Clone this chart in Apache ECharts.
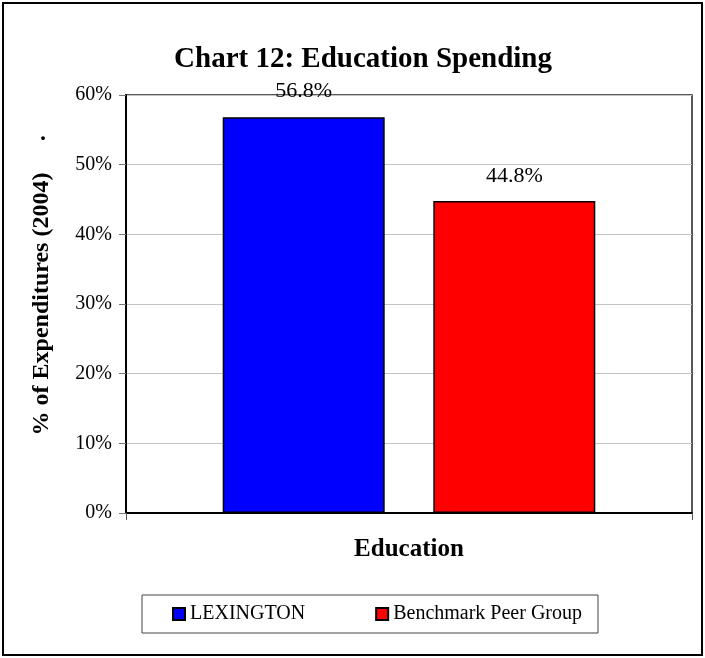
<!DOCTYPE html>
<html>
<head>
<meta charset="utf-8">
<script src="https://cdn.jsdelivr.net/npm/echarts@6/dist/echarts.min.js"></script>
<style>
  html, body { margin: 0; padding: 0; background: #fff; }
  #chart { width: 705px; height: 658px; }
</style>
</head>
<body>
<div id="chart"></div>
<script>
// data
var categories = ['Education']
var seriesNames = ['LEXINGTON', 'Benchmark Peer Group']
var lexington = [56.8]
var peerGroup = [44.8]
var yMin = 0
var yMax = 60
var yStep = 10

var serif = "'Liberation Serif', 'Times New Roman', serif"

var chart = echarts.init(document.getElementById('chart'))

var option = {
  backgroundColor: '#fff',
  animation: false,
  title: {
    text: 'Chart 12: Education Spending',
    left: 358,
    top: 40,
    textAlign: 'center',
    textStyle: { fontFamily: serif, fontWeight: 'bold', fontSize: 29, color: '#000' }
  },
  graphic: [
    {
      type: 'rect',
      shape: { x: 3, y: 3, width: 699, height: 652 },
      style: { fill: 'none', stroke: '#000', lineWidth: 2 },
      silent: true
    },
    {
      // stray dot that sits beyond the end of the axis title
      type: 'text',
      left: 40,
      top: 122,
      style: { text: '.', font: 'bold 24px ' + serif, fill: '#000' }
    }
  ],
  legend: {
    data: seriesNames,
    left: 142,
    top: 595,
    padding: [9, 16, 9, 30],
    itemGap: 70,
    itemWidth: 12,
    itemHeight: 12,
    borderColor: '#444',
    borderWidth: 1,
    icon: 'rect',
    textStyle: { fontFamily: serif, fontSize: 20, color: '#000' }
  },
  grid: {
    left: 126,
    right: 13,
    top: 95,
    bottom: 145,
    show: true,
    borderColor: '#222',
    borderWidth: 1.5,
    containLabel: false
  },
  xAxis: {
    type: 'category',
    data: categories,
    axisLine: { lineStyle: { color: '#000', width: 2 } },
    axisTick: { show: true, length: 7, lineStyle: { color: '#555' } },
    axisLabel: { margin: 24, fontFamily: serif, fontWeight: 'bold', fontSize: 25, color: '#000' }
  },
  yAxis: {
    type: 'value',
    min: yMin,
    max: yMax,
    interval: yStep,
    name: '% of Expenditures (2004)',
    nameLocation: 'middle',
    nameGap: 72,
    nameTextStyle: { fontFamily: serif, fontWeight: 'bold', fontSize: 24, color: '#000' },
    axisLine: { show: true, lineStyle: { color: '#000', width: 2 } },
    axisTick: { show: true, length: 7, lineStyle: { color: '#777' } },
    axisLabel: { formatter: '{value}%', margin: 14, fontFamily: serif, fontSize: 20, color: '#000' },
    splitLine: { lineStyle: { color: '#c4c4c4', width: 1 } }
  },
  series: [
    {
      name: seriesNames[0],
      type: 'bar',
      data: lexington,
      barWidth: 162,
      barGap: '30%',
      itemStyle: { color: '#0000ff', borderColor: '#000', borderWidth: 1.5 },
      label: {
        show: true,
        position: 'top',
        distance: 15,
        formatter: function (p) { return p.value.toFixed(1) + '%' },
        fontFamily: serif,
        fontSize: 22,
        color: '#000'
      }
    },
    {
      name: seriesNames[1],
      type: 'bar',
      data: peerGroup,
      barWidth: 162,
      barGap: '30%',
      itemStyle: { color: '#ff0000', borderColor: '#000', borderWidth: 1.5 },
      label: {
        show: true,
        position: 'top',
        distance: 14,
        formatter: function (p) { return p.value.toFixed(1) + '%' },
        fontFamily: serif,
        fontSize: 22,
        color: '#000'
      }
    }
  ]
}

chart.setOption(option)
</script>
</body>
</html>
